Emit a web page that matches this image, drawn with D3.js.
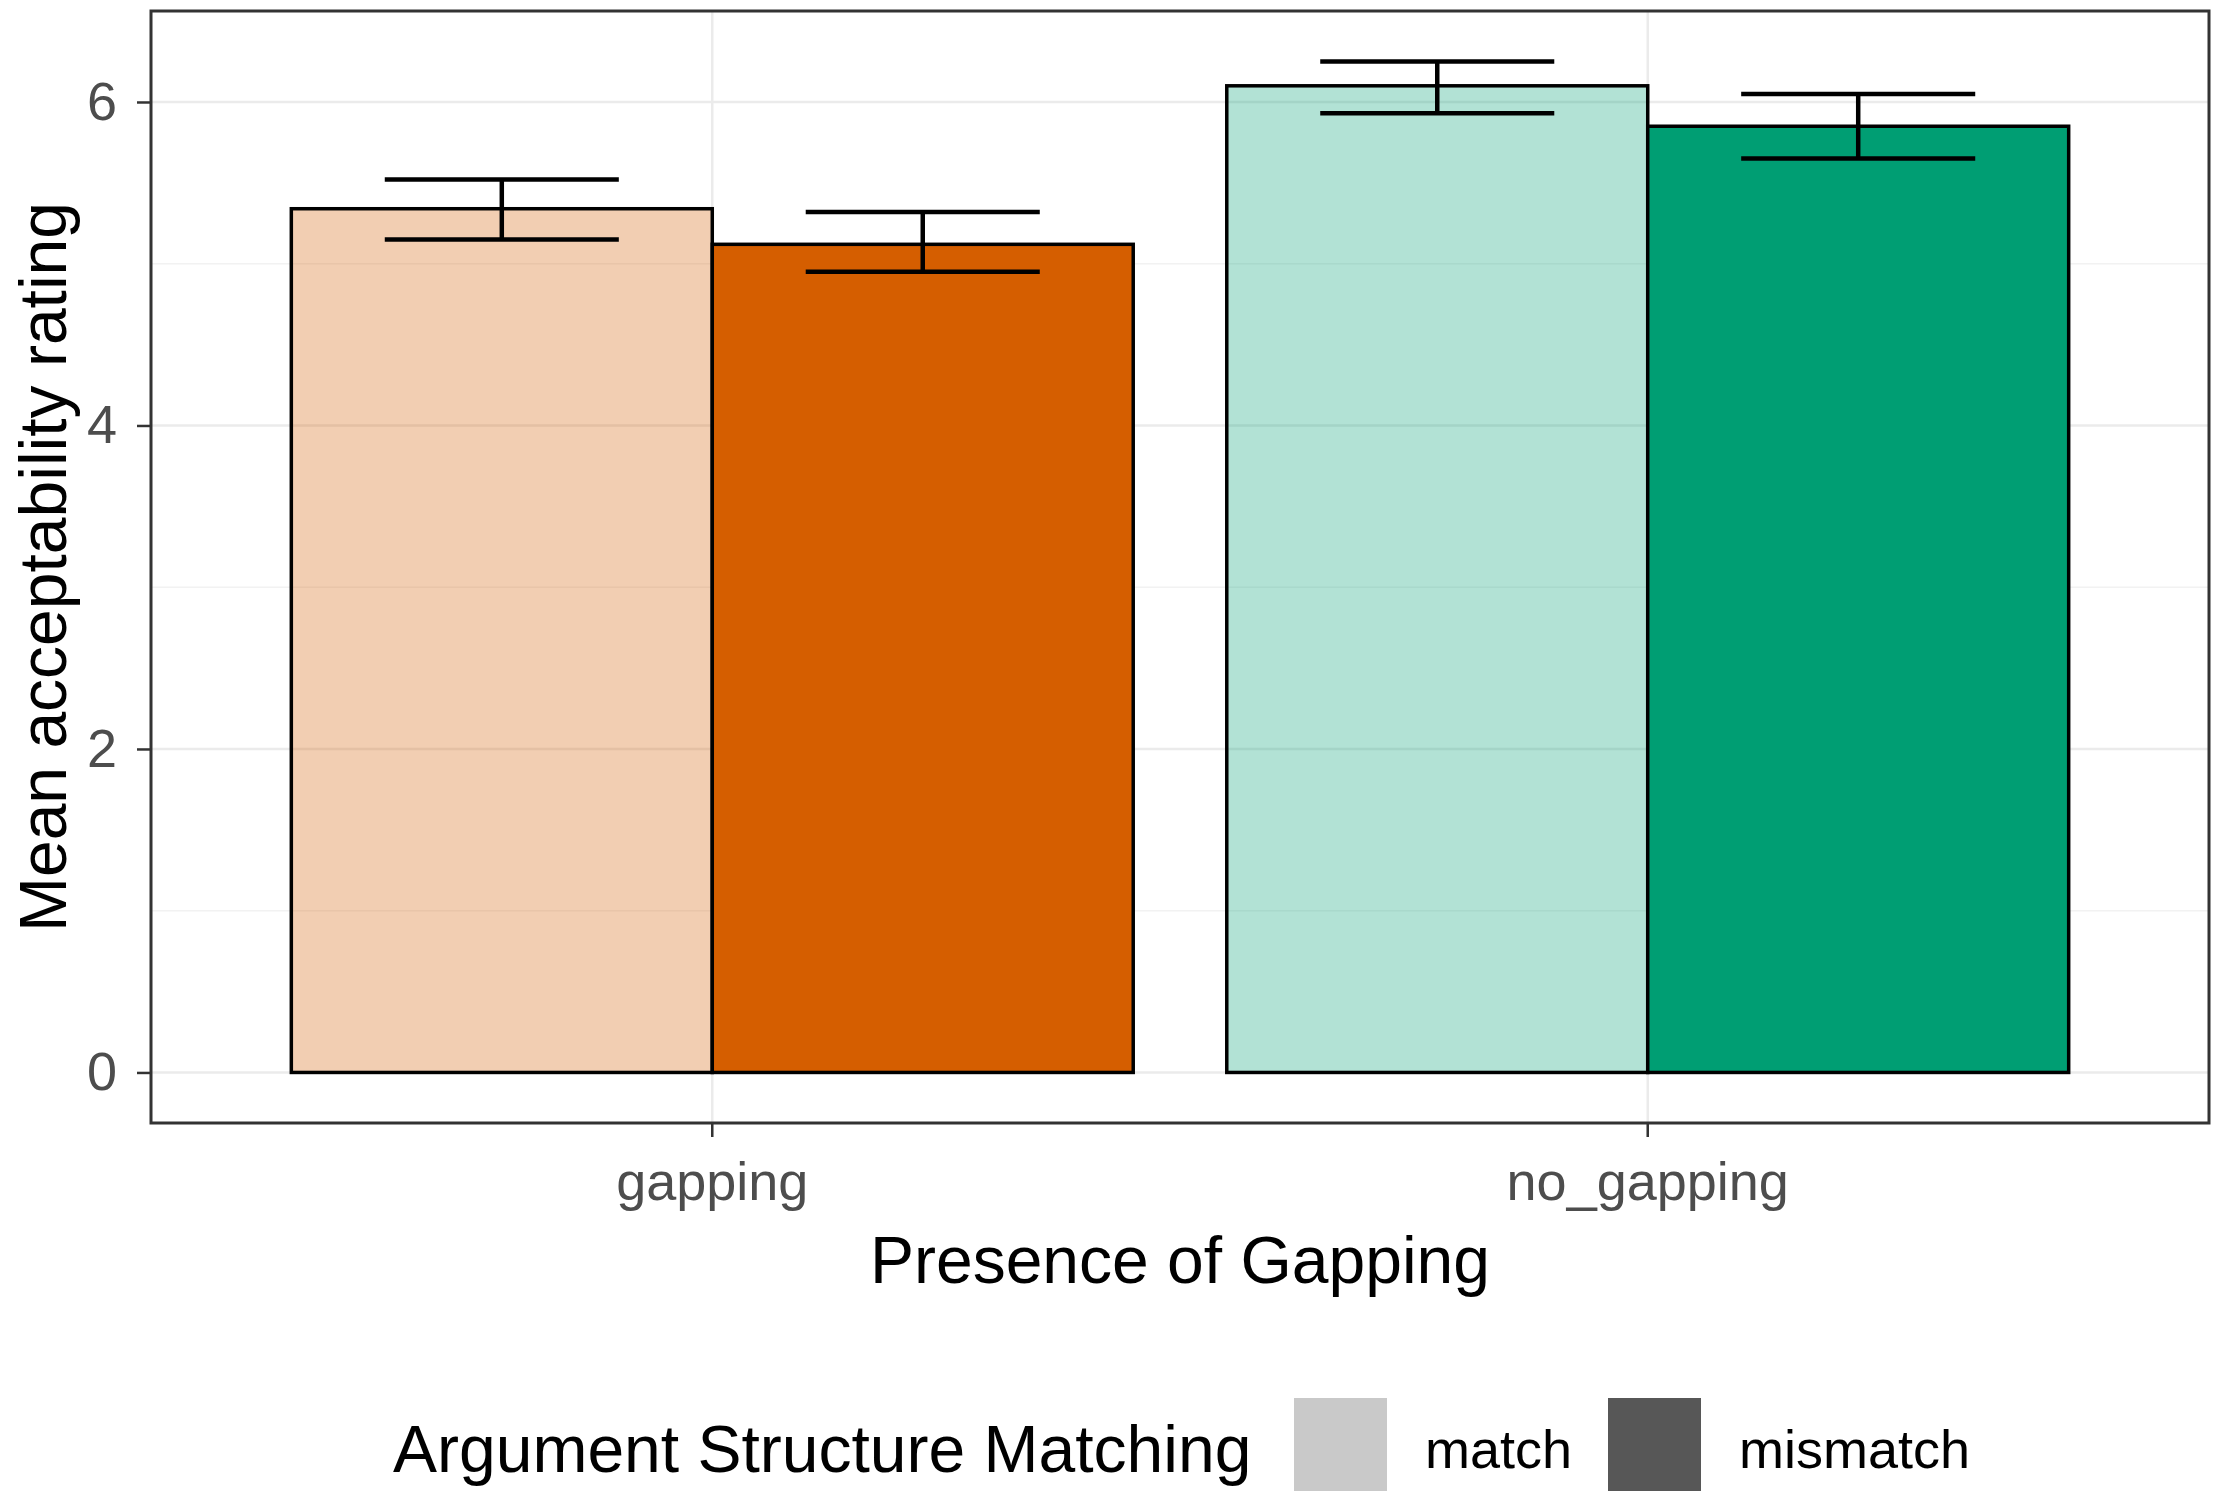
<!DOCTYPE html>
<html>
<head>
<meta charset="utf-8">
<script src="https://cdn.jsdelivr.net/npm/d3@7"></script>
<style>
  body { margin: 0; background: #fff; }
  text { font-family: 'Liberation Sans', Arial, sans-serif; }
</style>
</head>
<body>
<div id="chart"></div>
<script>

// data
const groups = ['gapping', 'no_gapping'];
const conditions = ['match', 'mismatch'];

const meanMatch = [5.34, 6.10];
const meanMismatch = [5.12, 5.85];

const lowMatch = [5.15, 5.93];
const highMatch = [5.52, 6.25];
const lowMismatch = [4.95, 5.65];
const highMismatch = [5.32, 6.05];

const groupColors = ['#D55E00', '#009E73'];
const conditionAlpha = [0.3, 1];
const legendColors = ['#c9c9c9', '#575757'];

const yTicks = [0, 2, 4, 6];
const yMinor = [1, 3, 5];

// build rows from the arrays
let dataset = [];
groups.forEach((g, i) => {
    dataset.push({ group: g, cond: 'match', mean: meanMatch[i], lo: lowMatch[i], hi: highMatch[i], gi: i, ci: 0 });
    dataset.push({ group: g, cond: 'mismatch', mean: meanMismatch[i], lo: lowMismatch[i], hi: highMismatch[i], gi: i, ci: 1 });
});

function drawBarChart(place) {

    //1 - dimensions
    let dimensions = {
        width: 2217,
        height: 1506,
        left: 151,
        right: 2209,
        top: 11,
        bottom: 1123,
    };

    //2 - canvas
    const wrapper = d3.select(place);

    let svg = wrapper.append('svg')
        .attr('width', dimensions.width)
        .attr('height', dimensions.height);

    let bounds = svg.append('g');

    //3 - scales (ggplot style expansion)
    let xScale = d3.scaleBand()
        .domain(groups)
        .range([dimensions.left, dimensions.right])
        .paddingInner(0.1)
        .paddingOuter(0.15);

    let subScale = d3.scaleBand()
        .domain(conditions)
        .range([0, xScale.bandwidth()]);

    let yMax = d3.max(dataset, d => d.hi);
    let yExp = yMax * 0.05;
    let yScale = d3.scaleLinear()
        .domain([-yExp, yMax + yExp])
        .range([dimensions.bottom, dimensions.top]);

    //4 - grid
    bounds.selectAll('.minor')
        .data(yMinor)
        .join('line')
        .attr('x1', dimensions.left)
        .attr('x2', dimensions.right)
        .attr('y1', d => yScale(d))
        .attr('y2', d => yScale(d))
        .style('stroke', '#f2f2f2')
        .style('stroke-width', 1.5);

    bounds.selectAll('.major')
        .data(yTicks)
        .join('line')
        .attr('x1', dimensions.left)
        .attr('x2', dimensions.right)
        .attr('y1', d => yScale(d))
        .attr('y2', d => yScale(d))
        .style('stroke', '#ebebeb')
        .style('stroke-width', 2.5);

    bounds.selectAll('.vgrid')
        .data(groups)
        .join('line')
        .attr('x1', d => xScale(d) + xScale.bandwidth() / 2)
        .attr('x2', d => xScale(d) + xScale.bandwidth() / 2)
        .attr('y1', dimensions.top)
        .attr('y2', dimensions.bottom)
        .style('stroke', '#ebebeb')
        .style('stroke-width', 2.5);

    //5 - bars
    bounds.selectAll('.bar')
        .data(dataset)
        .join('rect')
        .attr('x', d => xScale(d.group) + subScale(d.cond))
        .attr('width', subScale.bandwidth())
        .attr('y', d => yScale(d.mean))
        .attr('height', d => yScale(0) - yScale(d.mean))
        .style('fill', d => groupColors[d.gi])
        .style('fill-opacity', d => conditionAlpha[d.ci])
        .style('stroke', '#000')
        .style('stroke-width', 3.5);

    //6 - error bars
    let capHalf = subScale.bandwidth() * 0.278;
    let errs = bounds.selectAll('.err')
        .data(dataset)
        .join('g')
        .attr('transform', d => `translate(${xScale(d.group) + subScale(d.cond) + subScale.bandwidth() / 2},0)`)
        .style('stroke', '#000')
        .style('stroke-width', 4.5);

    errs.append('line')
        .attr('x1', 0).attr('x2', 0)
        .attr('y1', d => yScale(d.lo))
        .attr('y2', d => yScale(d.hi));
    errs.append('line')
        .attr('x1', -capHalf).attr('x2', capHalf)
        .attr('y1', d => yScale(d.hi))
        .attr('y2', d => yScale(d.hi));
    errs.append('line')
        .attr('x1', -capHalf).attr('x2', capHalf)
        .attr('y1', d => yScale(d.lo))
        .attr('y2', d => yScale(d.lo));

    // panel border
    bounds.append('rect')
        .attr('x', dimensions.left)
        .attr('y', dimensions.top)
        .attr('width', dimensions.right - dimensions.left)
        .attr('height', dimensions.bottom - dimensions.top)
        .style('fill', 'none')
        .style('stroke', '#333')
        .style('stroke-width', 3);

    //7 - axes
    let yAxis = bounds.append('g')
        .attr('transform', `translate(${dimensions.left},0)`)
        .call(d3.axisLeft(yScale).tickValues(yTicks).tickFormat(d3.format('d'))
            .tickSize(14).tickPadding(20).tickSizeOuter(0));
    yAxis.select('.domain').remove();
    yAxis.selectAll('line').style('stroke', '#333').style('stroke-width', 2.5);
    yAxis.selectAll('text')
        .style('font-size', '54px')
        .style('fill', '#4d4d4d');

    let xAxis = bounds.append('g')
        .attr('transform', `translate(0,${dimensions.bottom})`)
        .call(d3.axisBottom(xScale).tickSize(14).tickSizeOuter(0));
    xAxis.select('.domain').remove();
    xAxis.selectAll('line').style('stroke', '#333').style('stroke-width', 2.5);
    xAxis.selectAll('text')
        .attr('y', 77)
        .attr('dy', 0)
        .style('font-size', '54px')
        .style('fill', '#4d4d4d');

    //8 - titles
    bounds.append('text')
        .attr('x', (dimensions.left + dimensions.right) / 2)
        .attr('y', 1283)
        .attr('text-anchor', 'middle')
        .text('Presence of Gapping')
        .style('font-size', '66px')
        .style('fill', '#000');

    bounds.append('text')
        .attr('transform', `translate(66,${(dimensions.top + dimensions.bottom) / 2}) rotate(-90)`)
        .attr('text-anchor', 'middle')
        .text('Mean acceptability rating')
        .style('font-size', '66px')
        .style('fill', '#000');

    //9 - legend
    let legend = bounds.append('g');

    legend.append('text')
        .attr('x', 393)
        .attr('y', 1472)
        .text('Argument Structure Matching')
        .style('font-size', '66px')
        .style('fill', '#000');

    let keyX = [1294, 1608];
    let keys = legend.selectAll('.key')
        .data(conditions)
        .join('g')
        .attr('transform', (d, i) => `translate(${keyX[i]},1398)`);

    keys.append('rect')
        .attr('width', 93)
        .attr('height', 93)
        .style('fill', (d, i) => legendColors[i]);

    keys.append('text')
        .attr('x', 131)
        .attr('y', 70)
        .text(d => d)
        .style('font-size', '54px')
        .style('fill', '#000');
}

drawBarChart('#chart');
</script>
</body>
</html>
